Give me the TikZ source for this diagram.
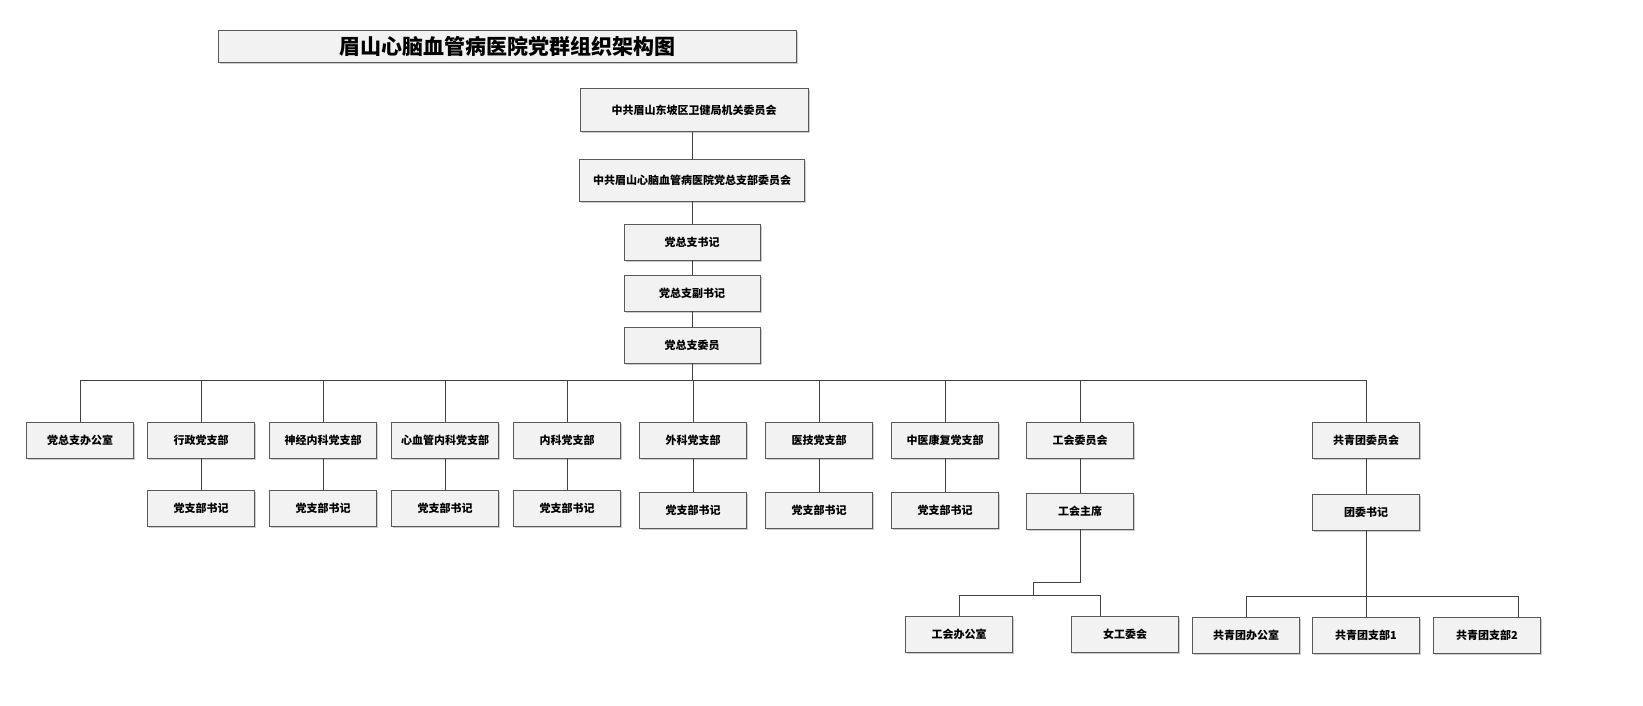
\documentclass[tikz,border=0pt]{standalone}
\usepackage{fontspec}
\setmainfont{Noto Sans CJK SC}
\usetikzlibrary{shadows}
\begin{document}
\begin{tikzpicture}[x=1pt,y=-1pt,
 bx/.style={draw=black!65,line width=0.9pt,fill=black!5,
   drop shadow={shadow xshift=1.5pt,shadow yshift=-1.5pt,fill=black!40},
   minimum width=107pt,minimum height=36pt,inner sep=2pt,font=\fontsize{11}{13}\selectfont\bfseries},
 ln/.style={draw=black!75,line width=0.9pt}]
\node[bx,minimum width=578pt,minimum height=32pt,font=\fontsize{21}{24}\selectfont\bfseries] (title) at (507,46) {眉山心脑血管病医院党群组织架构图};
\node[bx,minimum width=228pt,minimum height=43pt] (a) at (694,110) {中共眉山东坡区卫健局机关委员会};
\node[bx,minimum width=225pt,minimum height=42pt] (b) at (692,180) {中共眉山心脑血管病医院党总支部委员会};
\node[bx,minimum width=136pt] (c) at (692,242) {党总支书记};
\node[bx,minimum width=136pt] (d) at (692,293) {党总支副书记};
\node[bx,minimum width=136pt] (e) at (692,345) {党总支委员};
\draw[ln] (b.north)--(b.north|-a.south); \draw[ln] (b)--(c); \draw[ln] (c)--(d); \draw[ln] (d)--(e);
\coordinate (bus) at (692,380);
\draw[ln] (e.south)--(bus);
\draw[ln] (80,380)--(1366,380);
\foreach \n/\x/\t in {r1/80/党总支办公室,r2/201/行政党支部,r3/323/神经内科党支部,r4/445/心血管内科党支部,r5/567/内科党支部,r6/693/外科党支部,r7/819/医技党支部,r8/945/中医康复党支部,r9/1080/工会委员会,r10/1366/共青团委员会}{
 \node[bx] (\n) at (\x,440) {\t};
 \draw[ln] (\x,380)--(\n.north);
}
\foreach \n/\p/\x/\y/\t in {s2/r2/201/508/党支部书记,s3/r3/323/508/党支部书记,s4/r4/445/508/党支部书记,s5/r5/567/508/党支部书记,s6/r6/693/510/党支部书记,s7/r7/819/510/党支部书记,s8/r8/945/510/党支部书记,s9/r9/1080/511/工会主席,s10/r10/1366/512/团委书记}{
 \node[bx] (\n) at (\x,\y) {\t};
 \draw[ln] (\p)--(\n);
}
\node[bx] (g1) at (959,634) {工会办公室};
\node[bx] (g2) at (1125,634) {女工委会};
\node[bx] (t1) at (1246,635) {共青团办公室};
\node[bx] (t2) at (1366,635) {共青团支部1};
\node[bx] (t3) at (1487,635) {共青团支部2};
\draw[ln] (s9.south)--(1080,582)--(1033,582)--(1033,595);
\draw[ln] (g1.north)--(959,595)--(1100,595)--(1100,616);
\draw[ln] (s10.south)--(t2.north);
\draw[ln] (t1.north)--(1246,596)--(1518,596)--(1518,617);
\pgfresetboundingbox
\useasboundingbox (0,0) rectangle (1643,705);
\end{tikzpicture}
\end{document}
